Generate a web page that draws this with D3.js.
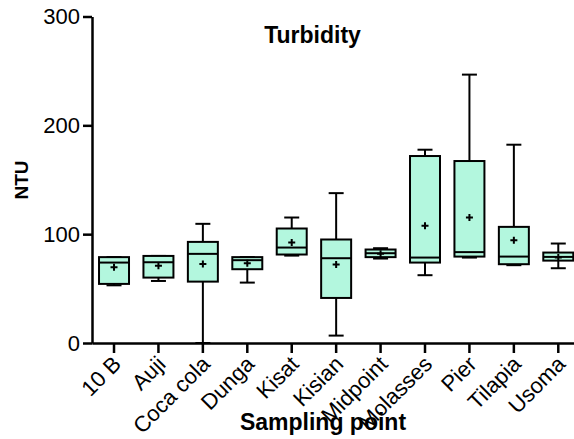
<!DOCTYPE html>
<html lang="en">
	<head>
		<meta charset="utf-8">
		<title>Turbidity</title>
		<script src="https://d3js.org/d3.v7.min.js"></script>
		<style type="text/css">
			body { margin: 0; background: #fff; }
			svg { display: block; font-family: "Liberation Sans", Arial, sans-serif; }
			.axis path,
			.axis line {
				fill: none;
				stroke: #000;
				stroke-width: 2.5px;
			}
			.axis text {
				font-size: 22px;
				fill: #000;
			}
			.box rect { fill: #b3f7de; stroke: #000; stroke-width: 2px; }
			.box line { stroke: #000; stroke-width: 2px; }
			.mean { stroke: #000; stroke-width: 2px; fill: none; }
		</style>
	</head>
	<body>
		<script type="text/javascript">
			//Width and height
			var w = 574;
			var h = 439;

			//Data (NTU)
			var categories = ["10 B", "Auji", "Coca cola", "Dunga", "Kisat", "Kisian", "Midpoint", "Molasses", "Pier", "Tilapia", "Usoma"];
			var minV   = [53.0, 57.0, 0.0, 55.5, 80.3, 6.8, 77.6, 62.3, 78.5, 71.5, 68.7];
			var q1     = [54.3, 60.1, 56.4, 67.8, 81.3, 41.4, 78.9, 73.9, 79.4, 72.4, 75.7];
			var median = [73.9, 74.2, 81.9, 76.1, 87.7, 77.9, 82.5, 78.5, 83.5, 79.4, 79.1];
			var q3     = [78.9, 80.0, 92.9, 78.9, 105.2, 95.1, 85.9, 171.8, 167.2, 106.7, 83.1];
			var maxV   = [78.9, 80.0, 109.5, 78.9, 115.3, 137.7, 87.1, 177.6, 246.6, 182.2, 91.4];
			var mean   = [69.7, 70.9, 72.7, 73.3, 92.3, 72.1, 81.9, 107.7, 115.3, 94.5, 78.5];
			var yTicks = [0, 100, 200, 300];

			var dataset = categories.map(function(c, i) {
				return { name: c, min: minV[i], q1: q1[i], med: median[i], q3: q3[i], max: maxV[i], mean: mean[i] };
			});

			//Scales
			var xScale = d3.scaleBand()
				.domain(categories)
				.range([91.8, 580.5])
				.padding(0);
			var yScale = d3.scaleLinear()
				.domain([0, 300])
				.range([343, 16.5]);

			var boxW = xScale.bandwidth() * 0.675;
			var capW = boxW * 0.5;
			function cx(d) { return xScale(d.name) + xScale.bandwidth() / 2; }

			var svg = d3.select("body")
				.append("svg")
				.attr("width", w)
				.attr("height", h);

			//Boxes
			var boxes = svg.append("g")
				.selectAll("g")
				.data(dataset)
				.enter()
				.append("g")
				.attr("class", "box");

			//whiskers
			boxes.append("line")
				.attr("x1", cx).attr("x2", cx)
				.attr("y1", function(d) { return yScale(d.q3); })
				.attr("y2", function(d) { return yScale(d.max); });
			boxes.append("line")
				.attr("x1", cx).attr("x2", cx)
				.attr("y1", function(d) { return yScale(d.q1); })
				.attr("y2", function(d) { return yScale(d.min); });
			boxes.append("line")
				.attr("x1", function(d) { return cx(d) - capW / 2; })
				.attr("x2", function(d) { return cx(d) + capW / 2; })
				.attr("y1", function(d) { return yScale(d.max); })
				.attr("y2", function(d) { return yScale(d.max); });
			boxes.append("line")
				.attr("x1", function(d) { return cx(d) - capW / 2; })
				.attr("x2", function(d) { return cx(d) + capW / 2; })
				.attr("y1", function(d) { return yScale(d.min); })
				.attr("y2", function(d) { return yScale(d.min); });

			//box body
			boxes.append("rect")
				.attr("x", function(d) { return cx(d) - boxW / 2; })
				.attr("y", function(d) { return yScale(d.q3); })
				.attr("width", boxW)
				.attr("height", function(d) { return yScale(d.q1) - yScale(d.q3); });

			//median
			boxes.append("line")
				.attr("x1", function(d) { return cx(d) - boxW / 2; })
				.attr("x2", function(d) { return cx(d) + boxW / 2; })
				.attr("y1", function(d) { return yScale(d.med); })
				.attr("y2", function(d) { return yScale(d.med); });

			//mean "+"
			boxes.append("path")
				.attr("class", "mean")
				.attr("d", function(d) {
					var x = cx(d), y = yScale(d.mean), s = 3.5;
					return "M" + (x - s) + "," + y + "H" + (x + s) + "M" + x + "," + (y - s) + "V" + (y + s);
				});

			//Y axis
			var yAxis = d3.axisLeft(yScale)
				.tickValues(yTicks)
				.tickSize(9)
				.tickSizeOuter(0)
				.tickPadding(3);
			svg.append("g")
				.attr("class", "y axis")
				.attr("transform", "translate(92,0)")
				.call(yAxis);

			//X axis
			var xAxis = d3.axisBottom(xScale)
				.tickSize(10)
				.tickSizeOuter(0);
			var gx = svg.append("g")
				.attr("class", "x axis")
				.attr("transform", "translate(0,343)")
				.call(xAxis);
			gx.selectAll("text")
				.attr("x", 0)
				.attr("y", 0)
				.attr("dy", "0.35em")
				.attr("text-anchor", "end")
				.attr("transform", "translate(3,17) rotate(-45)");

			//Titles
			svg.append("text")
				.attr("x", 312.5)
				.attr("y", 43)
				.attr("text-anchor", "middle")
				.style("font-size", "23px")
				.style("font-weight", "bold")
				.text("Turbidity");

			svg.append("text")
				.attr("x", 323)
				.attr("y", 430)
				.attr("text-anchor", "middle")
				.style("font-size", "23px")
				.style("font-weight", "bold")
				.text("Sampling point");

			svg.append("text")
				.attr("transform", "translate(28,180) rotate(-90)")
				.attr("text-anchor", "middle")
				.style("font-size", "19px")
				.style("font-weight", "bold")
				.text("NTU");
		</script>
	</body>
</html>
